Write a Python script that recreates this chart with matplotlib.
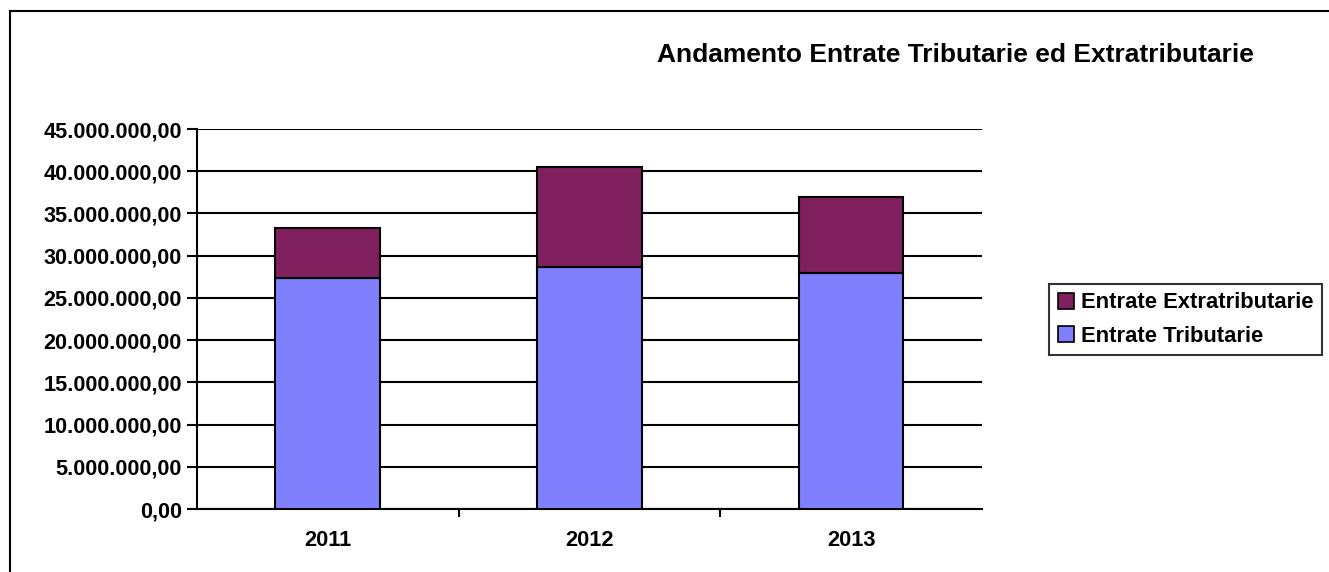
import matplotlib.pyplot as plt
from matplotlib.ticker import FuncFormatter
from matplotlib.patches import Patch
from matplotlib.lines import Line2D

plt.rcParams['font.family'] = ['Liberation Sans', 'DejaVu Sans']
plt.rcParams['font.weight'] = 'bold'

years = ['2011', '2012', '2013']
tributarie = [27390000, 28620000, 27950000]
extratributarie = [5920000, 11920000, 9000000]

col_trib = '#8080ff'
col_extra = '#80205e'

fig = plt.figure(figsize=(13.29, 5.72), dpi=100)
ax = fig.add_axes([0.1482, 0.1101, 0.5907, 0.6643])

x = range(len(years))
ax.bar(x, tributarie, width=0.4, color=col_trib, edgecolor='black', linewidth=1.5, zorder=3)
ax.bar(x, extratributarie, width=0.4, bottom=tributarie, color=col_extra,
       edgecolor='black', linewidth=1.5, zorder=3)

ax.set_xlim(-0.5, 2.5)
ax.set_ylim(0, 45000000)
ax.set_yticks(range(0, 45000001, 5000000))
ax.yaxis.set_major_formatter(FuncFormatter(
    lambda v, p: f'{v:,.2f}'.replace(',', 'X').replace('.', ',').replace('X', '.')))
ax.grid(axis='y', color='black', linewidth=1.5, zorder=0)

ax.set_xticks([0.5, 1.5])
ax.set_xticklabels([])
ax.set_xticks(list(x), minor=True)
ax.set_xticklabels(years, minor=True)
ax.tick_params(axis='x', which='minor', length=0, pad=15, labelsize=15.7)
ax.tick_params(axis='x', which='major', length=6, width=1.5)
ax.tick_params(axis='y', length=7, width=1.5, labelsize=15.6, pad=4)

for s in ['top', 'right']:
    ax.spines[s].set_visible(False)
for s in ['left', 'bottom']:
    ax.spines[s].set_linewidth(1.5)

fig.text(955.5 / 1329, 1 - 55 / 572, 'Andamento Entrate Tributarie ed Extratributarie',
         ha='center', va='center', fontsize=19, fontweight='bold')

handles = [Patch(facecolor=col_extra, edgecolor='black', linewidth=1.2),
           Patch(facecolor=col_trib, edgecolor='black', linewidth=1.2)]
leg = fig.legend(handles, ['Entrate Extratributarie', 'Entrate Tributarie'],
                 loc='center left', bbox_to_anchor=(1049 / 1329, 1 - 319.5 / 572),
                 fontsize=15.8, frameon=True, fancybox=False, edgecolor='black',
                 handlelength=0.75, handleheight=0.75, handletextpad=0.3,
                 borderpad=0.4, labelspacing=0.55, borderaxespad=0)
leg.get_frame().set_linewidth(1.5)

# outer chart border (top and left edges visible)
fig.add_artist(Line2D([9.5 / 1329, 1.0], [1 - 11 / 572, 1 - 11 / 572],
                      transform=fig.transFigure, color='black', linewidth=1.5))
fig.add_artist(Line2D([9.5 / 1329, 9.5 / 1329], [0, 1 - 11 / 572],
                      transform=fig.transFigure, color='black', linewidth=1.5))

fig.savefig('out.png', dpi=100, facecolor='white')
